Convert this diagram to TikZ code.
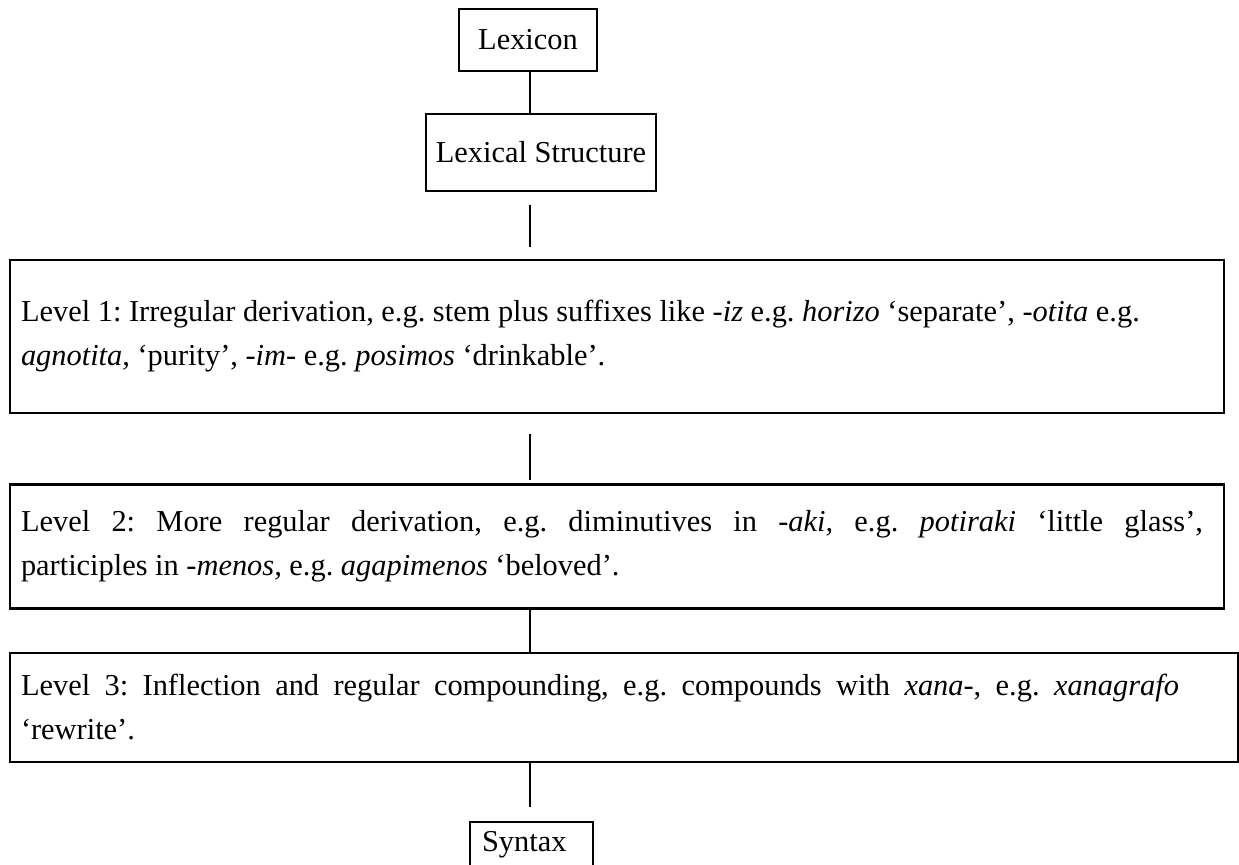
\documentclass[tikz,border=0pt]{standalone}
\usepackage{fontspec}
\setmainfont{Liberation Serif}
\usepackage{tikz}

\begin{document}
\frenchspacing
\begin{tikzpicture}[x=0.5pt, y=-0.5pt,
    every node/.style={font=\fontsize{15.2}{22}\selectfont},
    box/.style={draw, line width=1.1pt, inner sep=0pt, align=center},
    level/.style={box, align=justify, text width=596pt, inner xsep=5.5pt, minimum width=607pt},
    conn/.style={line width=1pt}]
    \clip (0,0) rectangle (1239,865);
    \coordinate (axis) at (530,0);

    \node[box, minimum width=69pt, minimum height=31pt] (lex) at (528,40)
        {Lexicon};
    \node[box, minimum width=115pt, minimum height=38.5pt] (lxs) at (541,152.5)
        {Lexical Structure};

    \node[level, minimum height=76.5pt] (lv1) at (617,336.5)
        {Level 1: Irregular derivation, e.g. stem plus suffixes like \textit{-iz} e.g. \textit{horizo} ‘separate’, \textit{-otita} e.g.\newline
         \textit{agnotita,} ‘purity’, \textit{-im-} e.g. \textit{posimos} ‘drinkable’.};

    \node[level, minimum height=62pt] (lv2) at (617,546.5)
        {Level 2: More regular derivation, e.g. diminutives in \textit{-aki,} e.g. \textit{potiraki} ‘little glass’,\hspace*{5pt}\penalty-10000
         participles in -\textit{menos,} e.g. \textit{agapimenos} ‘beloved’.};

    \node[level, text width=603pt, minimum width=614pt, minimum height=54.5pt] (lv3) at (624,707.5)
        {Level 3: Inflection and regular compounding, e.g. compounds with \textit{xana-}, e.g. \textit{xanagrafo}\hspace*{24pt}\penalty-10000
         ‘rewrite’.};

    \node[box, anchor=north, align=left, text width=49.5pt, inner xsep=6pt, inner ysep=4pt,
        text height=10.5pt, text depth=15pt] (syn) at (531.5,821)
        {Syntax};

    \draw[conn] (lex.south -| axis) -- (lxs.north -| axis);
    \draw[conn, shorten <=6.5pt, shorten >=6pt] (lxs.south -| axis) -- (lv1.north -| axis);
    \draw[conn, shorten <=10pt, shorten >=1.5pt] (lv1.south -| axis) -- (lv2.north -| axis);
    \draw[conn] (lv2.south -| axis) -- (lv3.north -| axis);
    \draw[conn, shorten >=7pt] (lv3.south -| axis) -- (syn.north -| axis);

\end{tikzpicture}
\end{document}
